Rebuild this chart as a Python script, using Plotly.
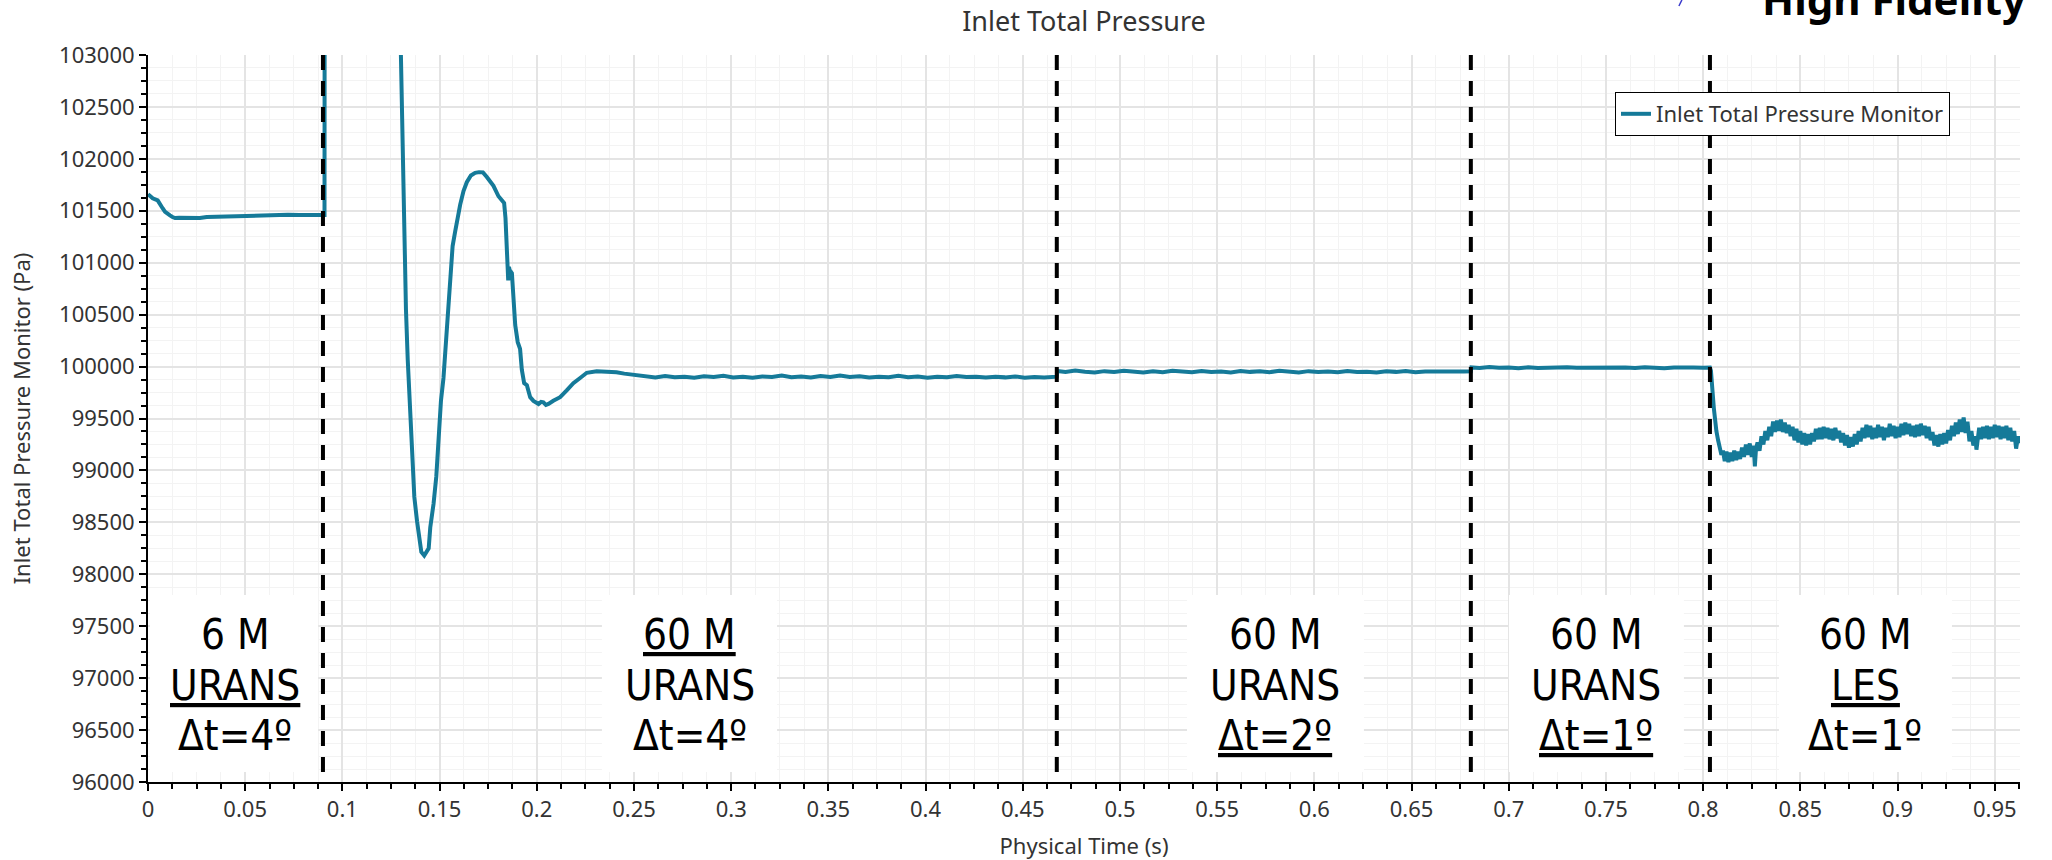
import plotly.graph_objects as go

# ---- monitor history: physical time (s) and inlet total pressure (Pa) ----
# 6 M URANS, dt = 4 deg
t_coarse = [0.0, 0.0024, 0.005, 0.0062, 0.0075, 0.0088, 0.0100, 0.0113, 0.0126, 0.0139,
            0.016, 0.0199, 0.0235, 0.0267, 0.0302, 0.034, 0.037, 0.0405, 0.0439, 0.049,
            0.0542, 0.060, 0.066, 0.072, 0.078, 0.084, 0.0908]
p_coarse = [101660, 101620, 101600, 101555, 101525, 101490, 101470, 101455, 101440, 101430,
            101432, 101428, 101432, 101430, 101440, 101442, 101445, 101450, 101455, 101458,
            101460, 101462, 101460, 101462, 101460, 101461, 101460]

# restart on the 60 M mesh: pressure spike above the plotted range, then settling
t_restart = [0.0909, 0.1298, 0.1301, 0.1305, 0.131, 0.1318, 0.1327, 0.1336, 0.1344, 0.1354,
             0.1361, 0.137, 0.1384, 0.1397, 0.1406, 0.1421, 0.1444, 0.1452, 0.1469, 0.1483,
             0.1495, 0.1507, 0.152, 0.1534, 0.1546, 0.1555, 0.1567, 0.158, 0.1592, 0.1606,
             0.1623, 0.164, 0.1661, 0.1683, 0.1703, 0.1723, 0.1743, 0.1777, 0.1803, 0.1832,
             0.1839, 0.1846, 0.1853, 0.1857, 0.186, 0.1872, 0.188, 0.1889, 0.1902, 0.1914,
             0.1923, 0.1935, 0.1949, 0.1966, 0.1983, 0.1996, 0.2009, 0.2022, 0.2034, 0.2047,
             0.206, 0.2085, 0.212, 0.2154, 0.2188, 0.2223, 0.2257, 0.2308, 0.2364, 0.2410,
             0.2450, 0.2494, 0.2530]
p_restart = [104500, 104500, 103000, 102650, 101890, 101180, 100550, 100070, 99770, 99440,
             99060, 98745, 98510, 98360, 98215, 98180, 98250, 98450, 98680, 98940,
             99300, 99670, 99890, 100270, 100600, 100900, 101160, 101300, 101430, 101560,
             101690, 101775, 101840, 101865, 101872, 101870, 101825, 101740, 101640, 101575,
             101430, 101060, 100830, 100960, 100930, 100900, 100600, 100400, 100235, 100170,
             99970, 99840, 99820, 99705, 99670, 99650, 99640, 99660, 99655, 99630,
             99640, 99670, 99705, 99770, 99840, 99890, 99940, 99955, 99950, 99945,
             99932, 99920, 99908]

# 60 M URANS, dt = 4 deg (settled)
t_urans4 = [0.256, 0.261, 0.266, 0.271, 0.276, 0.281, 0.286, 0.291, 0.296, 0.301,
            0.306, 0.311, 0.316, 0.321, 0.326, 0.331, 0.336, 0.341, 0.346, 0.351,
            0.356, 0.361, 0.366, 0.371, 0.376, 0.381, 0.386, 0.391, 0.396, 0.401,
            0.406, 0.411, 0.416, 0.421, 0.426, 0.431, 0.436, 0.441, 0.446, 0.451,
            0.456, 0.461, 0.4675]
p_urans4 = [99905, 99895, 99908, 99898, 99902, 99893, 99906, 99899, 99912, 99896,
            99903, 99892, 99905, 99900, 99913, 99897, 99904, 99895, 99909, 99899,
            99914, 99900, 99906, 99894, 99903, 99898, 99911, 99897, 99904, 99893,
            99902, 99897, 99910, 99899, 99903, 99894, 99901, 99896, 99905, 99893,
            99900, 99895, 99903]

# 60 M URANS, dt = 2 deg
t_urans2 = [0.4678, 0.472, 0.477, 0.482, 0.487, 0.492, 0.497, 0.502, 0.507, 0.512,
            0.517, 0.522, 0.527, 0.532, 0.537, 0.542, 0.547, 0.552, 0.557, 0.562,
            0.567, 0.572, 0.577, 0.582, 0.587, 0.592, 0.597, 0.602, 0.607, 0.612,
            0.617, 0.622, 0.627, 0.632, 0.637, 0.642, 0.647, 0.652, 0.657, 0.662,
            0.667, 0.672, 0.677, 0.6805]
p_urans2 = [99958, 99948, 99962, 99950, 99944, 99956, 99947, 99960, 99949, 99943,
            99955, 99946, 99959, 99950, 99945, 99957, 99948, 99952, 99944, 99958,
            99949, 99955, 99946, 99960, 99950, 99944, 99956, 99947, 99953, 99945,
            99958, 99948, 99951, 99943, 99955, 99949, 99957, 99946, 99952, 99950,
            99956, 99947, 99953, 99955]

# 60 M URANS, dt = 1 deg
t_urans1 = [0.6808, 0.685, 0.690, 0.695, 0.700, 0.705, 0.710, 0.715, 0.720, 0.725,
            0.730, 0.735, 0.740, 0.745, 0.750, 0.755, 0.760, 0.765, 0.770, 0.775,
            0.780, 0.785, 0.790, 0.795, 0.800, 0.8035]
p_urans1 = [99992, 99986, 99995, 99988, 99991, 99984, 99993, 99987, 99990, 99985,
            99994, 99988, 99990, 99984, 99992, 99987, 99991, 99986, 99993, 99989,
            99985, 99992, 99987, 99990, 99988, 99990]

# 60 M LES, dt = 1 deg
t_les = [0.8040, 0.8045, 0.8050, 0.8055, 0.8060, 0.8068, 0.8077, 0.8085, 0.8094, 0.8102,
         0.8111, 0.8120, 0.8130, 0.8140, 0.8150, 0.8160, 0.8170, 0.8180, 0.8190, 0.8200,
         0.8210, 0.8220, 0.8230, 0.8240, 0.8250, 0.8260, 0.8266, 0.8272, 0.8280, 0.8290,
         0.8300, 0.8310, 0.8320, 0.8330, 0.8340, 0.8350, 0.8360, 0.8370, 0.8380, 0.8390,
         0.8400, 0.8410, 0.8420, 0.8430, 0.8440, 0.8450, 0.8460, 0.8470, 0.8480, 0.8490,
         0.8500, 0.8510, 0.8520, 0.8530, 0.8540, 0.8550, 0.8560, 0.8570, 0.8580, 0.8590,
         0.8600, 0.8610, 0.8620, 0.8630, 0.8640, 0.8650, 0.8660, 0.8670, 0.8680, 0.8690,
         0.8700, 0.8710, 0.8720, 0.8730, 0.8740, 0.8750, 0.8760, 0.8770, 0.8780, 0.8790,
         0.8800, 0.8810, 0.8820, 0.8830, 0.8840, 0.8850, 0.8860, 0.8870, 0.8880, 0.8890,
         0.8900, 0.8910, 0.8920, 0.8930, 0.8940, 0.8950, 0.8960, 0.8970, 0.8980, 0.8990,
         0.9000, 0.9010, 0.9020, 0.9030, 0.9040, 0.9050, 0.9060, 0.9070, 0.9080, 0.9090,
         0.9100, 0.9110, 0.9120, 0.9130, 0.9140, 0.9150, 0.9160, 0.9170, 0.9180, 0.9190,
         0.9200, 0.9210, 0.9220, 0.9230, 0.9240, 0.9250, 0.9260, 0.9270, 0.9280, 0.9290,
         0.9300, 0.9310, 0.9320, 0.9330, 0.9340, 0.9350, 0.9360, 0.9370, 0.9380, 0.9390,
         0.9400, 0.9406, 0.9412, 0.9420, 0.9430, 0.9440, 0.9450, 0.9460, 0.9470, 0.9480,
         0.9490, 0.9500, 0.9510, 0.9520, 0.9530, 0.9540, 0.9550, 0.9560, 0.9570, 0.9580,
         0.9590, 0.9600, 0.9610, 0.9620, 0.9625]
p_les = [99960, 99880, 99720, 99600, 99480, 99380, 99290, 99200, 99150, 99190,
         99090, 99180, 99080, 99170, 99090, 99190, 99100, 99180, 99110, 99220,
         99130, 99250, 99150, 99260, 99130, 99240, 99040, 99210, 99270, 99190,
         99330, 99250, 99380, 99290, 99420, 99330, 99470, 99370, 99480, 99380,
         99490, 99370, 99460, 99360, 99440, 99330, 99420, 99290, 99400, 99270,
         99380, 99250, 99360, 99240, 99350, 99250, 99360, 99280, 99400, 99300,
         99410, 99300, 99420, 99310, 99410, 99300, 99400, 99290, 99410, 99310,
         99380, 99270, 99360, 99240, 99340, 99220, 99320, 99230, 99350, 99250,
         99380, 99280, 99410, 99310, 99440, 99320, 99430, 99300, 99410, 99310,
         99440, 99320, 99420, 99290, 99410, 99320, 99450, 99330, 99430, 99310,
         99420, 99320, 99450, 99340, 99460, 99350, 99450, 99330, 99430, 99320,
         99440, 99330, 99450, 99340, 99430, 99310, 99420, 99290, 99370, 99240,
         99340, 99230, 99350, 99250, 99360, 99260, 99390, 99290, 99430, 99330,
         99460, 99350, 99490, 99370, 99510, 99360, 99470, 99280, 99380, 99240,
         99330, 99200, 99330, 99410, 99300, 99420, 99310, 99430, 99300, 99420,
         99310, 99440, 99320, 99430, 99300, 99420, 99310, 99430, 99290, 99410,
         99280, 99380, 99210, 99330, 99260]

time_s = t_coarse + t_restart + t_urans4 + t_urans2 + t_urans1 + t_les
pressure_pa = p_coarse + p_restart + p_urans4 + p_urans2 + p_urans1 + p_les

# solver setting changes (s)
phase_switch_times = [0.0900, 0.4675, 0.6805, 0.8035]

# setting labels: three lines per phase (mesh, model, time step)
phase_label_times = [0.0448, 0.2786, 0.5800, 0.7451, 0.8835]
phase_mesh = ["6 M", "<u>60 M</u>", "60 M", "60 M", "60 M"]
phase_model = ["<u>URANS</u>", "URANS", "URANS", "URANS", "<u>LES</u>"]
phase_step = ["\u0394t=4\u00ba", "\u0394t=4\u00ba", "<u>\u0394t=2\u00ba</u>",
              "<u>\u0394t=1\u00ba</u>", "\u0394t=1\u00ba"]

# white boxes behind the labels: (t_start, t_end) and pressure extent
label_box_spans = [(0.0010, 0.0875), (0.2335, 0.3236), (0.5345, 0.6255),
                   (0.7001, 0.7901), (0.8390, 0.9280)]
LABEL_BOX_P = (96096, 97801)
LABEL_LINE_P = (97425, 96934, 96443)

LINE_COLOR = "#157a99"
UI_FONT = "Noto Sans"
LABEL_FONT = "DejaVu Sans Condensed, DejaVu Sans"

fig = go.Figure()
fig.add_trace(go.Scatter(
    x=time_s, y=pressure_pa, mode="lines",
    name="Inlet Total Pressure Monitor",
    line=dict(color=LINE_COLOR, width=4),
))

# label backgrounds sit over the grid but under the data
for t0, t1 in label_box_spans:
    fig.add_shape(type="rect", xref="x", yref="y", x0=t0, x1=t1,
                  y0=LABEL_BOX_P[0], y1=LABEL_BOX_P[1], layer="between",
                  fillcolor="white", line=dict(width=0))

# dashed markers where the run settings change
for ts in phase_switch_times:
    fig.add_shape(type="line", xref="x", yref="y domain",
                  x0=ts, x1=ts, y0=1, y1=0, layer="above",
                  line=dict(color="black", width=4, dash="15px,11px"))

for tx, l1, l2, l3 in zip(phase_label_times, phase_mesh, phase_model, phase_step):
    for txt, py in zip((l1, l2, l3), LABEL_LINE_P):
        fig.add_annotation(x=tx, y=py, xref="x", yref="y", text=txt,
                           showarrow=False, xanchor="center", yanchor="middle",
                           font=dict(family=LABEL_FONT, size=42, color="black"))

# heading in the top-right corner
fig.add_annotation(x=1.0, y=1.078, xref="paper", yref="paper", xshift=8,
                   text="<b>High Fidelity</b>", showarrow=False,
                   xanchor="right", yanchor="middle",
                   font=dict(family=UI_FONT, size=42, color="black"))
fig.add_shape(type="line", xref="paper", yref="paper",
              x0=0.8178, x1=0.8194, y0=1.0674, y1=1.0757,
              line=dict(color="#3a3acc", width=1.5))

axis_common = dict(
    showline=True, linecolor="black", linewidth=2,
    ticks="outside", ticklen=7, tickwidth=1.5, tickcolor="black",
    showgrid=True, gridcolor="#e4e4e4", gridwidth=1.5,
    zeroline=False, automargin=False,
    tickfont=dict(family=UI_FONT, size=22, color="#333333"),
)

fig.update_xaxes(
    range=[0, 0.963], dtick=0.05, tick0=0,
    title=dict(text="Physical Time (s)", standoff=30,
               font=dict(family=UI_FONT, size=22, color="#333333")),
    minor=dict(dtick=0.0125, ticks="outside", ticklen=5, tickcolor="black",
               showgrid=True, gridcolor="#f3f3f3", gridwidth=1),
    **axis_common,
)
fig.update_yaxes(
    range=[96000, 103000], dtick=500, tick0=96000, tickformat="d",
    title=dict(text="Inlet Total Pressure Monitor (Pa)", standoff=22,
               font=dict(family=UI_FONT, size=22, color="#333333")),
    minor=dict(dtick=125, ticks="outside", ticklen=5, tickcolor="black",
               showgrid=True, gridcolor="#f3f3f3", gridwidth=1),
    **axis_common,
)

fig.update_layout(
    width=2052, height=860,
    margin=dict(l=148, r=32, t=55, b=78, autoexpand=False),
    paper_bgcolor="white", plot_bgcolor="white",
    title=dict(text="Inlet Total Pressure", x=0.5, xref="paper",
               y=1 - 22 / 860, yref="container", yanchor="middle", xanchor="center",
               font=dict(family=UI_FONT, size=27, color="#333333")),
    showlegend=True,
    legend=dict(x=0.9626, y=0.9491, xanchor="right", yanchor="top",
                bgcolor="white", bordercolor="black", borderwidth=1,
                itemwidth=30,
                font=dict(family=UI_FONT, size=22, color="#333333")),
)

fig.write_html("out.html")
